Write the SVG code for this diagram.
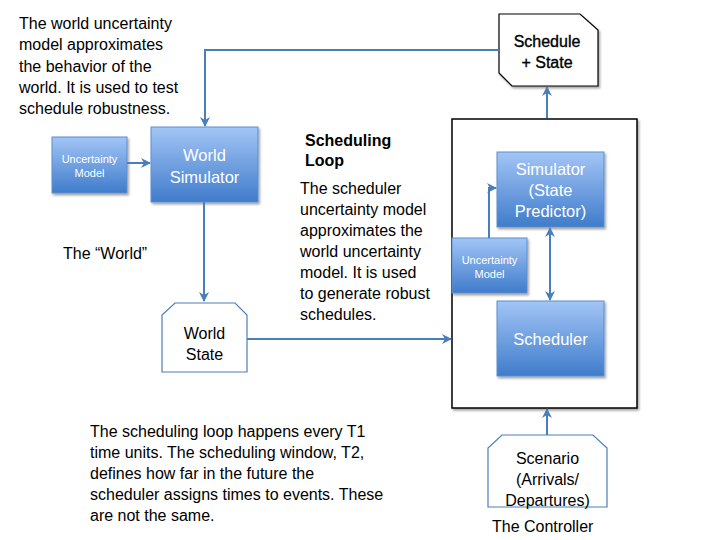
<svg xmlns="http://www.w3.org/2000/svg" width="720" height="540" viewBox="0 0 720 540">
<defs>
<linearGradient id="blue" x1="0" y1="0" x2="0" y2="1">
<stop offset="0" stop-color="#a3c5f6"/>
<stop offset="1" stop-color="#3f7ccb"/>
</linearGradient>
<filter id="sh" x="-10%" y="-10%" width="130%" height="130%">
<feDropShadow dx="1.5" dy="2" stdDeviation="1.2" flood-color="#000" flood-opacity="0.35"/>
</filter>
<marker id="ah" viewBox="0 0 10 10" refX="9" refY="5" markerWidth="5" markerHeight="5" orient="auto-start-reverse" markerUnits="strokeWidth">
<path d="M0,0 L10,5 L0,10 L3,5 z" fill="#4a7ebb"/>
</marker>
</defs>
<style>
text{font-family:"Liberation Sans",Arial,sans-serif}
.t{font-size:16px;fill:#000}
.b{font-size:16px;font-weight:bold;fill:#000}
.w{fill:#fff;text-anchor:middle;font-size:16.5px}
.ws{fill:#fff;text-anchor:middle;font-size:11px}
.box{fill:url(#blue);stroke:#5b8fd0;stroke-width:1;filter:url(#sh)}
.shape{fill:#fff;stroke:#4a7ebb;stroke-width:1.2}
.c{fill:none;stroke:#4a7ebb;stroke-width:2;marker-end:url(#ah)}
.k{text-anchor:middle;font-size:16px;fill:#000}
</style>
<rect width="720" height="540" fill="#fff"/>

<g id="controller">
<rect x="452" y="119" width="185" height="289" fill="#fff" stroke="#000" stroke-width="1.5" filter="url(#sh)"/>
</g>

<g id="schedule-state">
<path d="M499,14 L580,14 L598,30 L598,86 L512,86 L499,73 Z" fill="#fff" stroke="#000" stroke-width="1.2" filter="url(#sh)"/>
<text class="k" x="547" y="47" stroke="#000" stroke-width="0.35">Schedule</text>
<text class="k" x="547" y="68" stroke="#000" stroke-width="0.35">+ State</text>
</g>

<g id="uncertainty-model-world">
<rect class="box" x="52" y="137" width="75" height="56"/>
<text class="ws" x="89.5" y="163">Uncertainty</text>
<text class="ws" x="89.5" y="177">Model</text>
</g>

<g id="world-simulator">
<rect class="box" x="151" y="127" width="107" height="75"/>
<text class="w" x="204.5" y="161">World</text>
<text class="w" x="204.5" y="183">Simulator</text>
</g>

<g id="world-state">
<path class="shape" d="M175,303 L235,303 L247,315 L247,372 L162,372 L162,315 Z"/>
<text class="k" x="204.5" y="339">World</text>
<text class="k" x="204.5" y="360">State</text>
</g>

<g id="simulator">
<rect class="box" x="497" y="152" width="107" height="75"/>
<text class="w" x="550.5" y="175">Simulator</text>
<text class="w" x="550.5" y="196">(State</text>
<text class="w" x="550.5" y="217">Predictor)</text>
</g>

<g id="uncertainty-model-scheduler">
<rect class="box" x="452" y="238" width="75" height="55"/>
<text class="ws" x="489.5" y="264">Uncertainty</text>
<text class="ws" x="489.5" y="278">Model</text>
</g>

<g id="scheduler">
<rect class="box" x="497" y="301" width="107" height="75"/>
<text class="w" x="550.5" y="345">Scheduler</text>
</g>

<g id="scenario">
<path class="shape" d="M502,435 L593,435 L607,448 L607,507 L488,507 L488,448 Z"/>
<text class="k" x="547.5" y="464">Scenario</text>
<text class="k" x="547.5" y="485">(Arrivals/</text>
<text class="k" x="547.5" y="506">Departures)</text>
</g>

<g id="connectors">
<path class="c" d="M127,163 L150,163"/>
<path class="c" d="M499,50 L205,50 L205,126"/>
<path class="c" d="M204,202 L204,301"/>
<path class="c" d="M247,339 L451,339"/>
<path class="c" d="M547,118 L547,87"/>
<path class="c" d="M547,435 L547,409"/>
<path class="c" d="M489,238 L489,188 L496,188"/>
<path class="c" d="M550,228 L550,300" marker-start="url(#ah)"/>
</g>

<g id="labels">
<text class="t" x="19" y="29">The world uncertainty</text>
<text class="t" x="19" y="50">model approximates</text>
<text class="t" x="19" y="72">the behavior of the</text>
<text class="t" x="19" y="93">world. It is used to test</text>
<text class="t" x="19" y="114">schedule robustness.</text>

<text class="b" x="305" y="146">Scheduling</text>
<text class="b" x="305" y="166">Loop</text>

<text class="t" x="300" y="194">The scheduler</text>
<text class="t" x="300" y="215">uncertainty model</text>
<text class="t" x="300" y="236">approximates the</text>
<text class="t" x="300" y="257">world uncertainty</text>
<text class="t" x="300" y="278">model. It is used</text>
<text class="t" x="300" y="299">to generate robust</text>
<text class="t" x="300" y="320">schedules.</text>

<text class="t" x="63" y="259">The “World”</text>

<text class="t" x="90" y="437">The scheduling loop happens every T1</text>
<text class="t" x="90" y="458">time units. The scheduling window, T2,</text>
<text class="t" x="90" y="479">defines how far in the future the</text>
<text class="t" x="90" y="500">scheduler assigns times to events. These</text>
<text class="t" x="90" y="521">are not the same.</text>

<text class="t" x="492" y="532">The Controller</text>
</g>
</svg>
